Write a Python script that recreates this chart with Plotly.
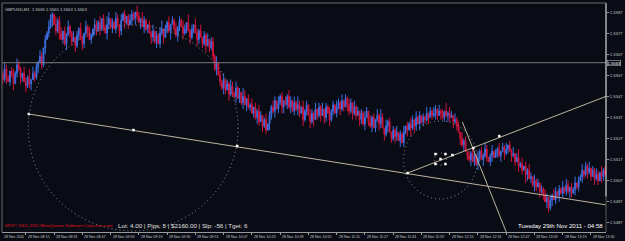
import plotly.graph_objects as go
import pandas as pd

# ---------------- data ----------------
symbol_title = "GBPUSD,M1  1.5565 1.5565 1.5563 1.5563"
start_time = "2011-11-28 08:01"
base_price = 1.5500

# closes in pips above 1.5500, one per M1 bar
close_pips = [
    58, 55, 60, 56, 54, 59, 57, 53, 58, 62, 60, 56, 58, 54, 52, 56, 53, 55, 58, 56, 61, 63,
    66, 62, 70, 74, 77, 80,
    84, 86, 81, 78, 83, 77,
    74, 78, 72, 76, 80, 77, 73, 75, 71, 76, 79, 74, 72, 77, 80, 78, 74, 76, 79, 81,
    78, 82, 79, 84, 80, 77, 81, 84, 80,
    82, 79, 84, 81, 78, 83, 86, 82, 85, 81, 83, 86, 84, 87, 85, 82, 84, 80, 83, 79, 81, 77,
    75, 78, 73, 76, 72, 77, 79, 75,
    79, 82, 78, 81, 83, 79, 76, 80, 83, 80, 77, 79, 82, 78, 75, 79, 81, 77, 74, 78,
    75, 72, 76, 71, 74, 70, 73,
    66, 60, 63, 57,
    54, 51, 55, 50, 53, 48, 52, 49, 47,
    51, 46, 49, 44, 47, 43, 46, 42,
    43, 39, 42, 37, 40, 35, 38, 33, 36, 31, 34,
    38, 42, 40, 45, 41, 44, 47, 42, 45,
    43, 47, 42, 45, 40, 44, 41, 43,
    39, 42, 36, 40, 43, 38, 35, 39, 36, 41, 38, 42,
    38, 41, 37, 42, 39, 36, 40, 43, 39, 42, 44,
    41, 45, 42, 46, 43, 40, 44, 39, 42, 38, 40,
    36, 39, 34, 37, 40, 35, 33, 37, 32, 36, 38,
    34, 37, 32, 29, 33, 35, 30, 27, 31, 28, 30, 26,
    29, 25, 30, 33, 31,
    34, 32, 36, 33, 37, 34, 38, 35, 37,
    36, 39, 37, 40, 38, 39, 41, 38, 40, 39, 37, 40, 38, 39, 37, 38, 35, 36, 33, 30,
    27, 24, 26, 21, 19, 17,
    20, 16, 19, 15, 18,
    21, 17, 19, 22, 18, 16, 19, 21, 18, 20, 22, 19,
    21, 23, 20, 22, 24, 21, 19, 20,
    16, 18, 14, 15, 12, 14, 10, 12, 8,
    9, 5, 7, 4, 6, 2, 3, 0,
    -3, -1, -6, -2,
    0, -2, 2, 0, 3, 1, 4, 2,
    5, 2, 4, 1, 3, 6, 4, 7,
    9, 12, 10, 14, 11, 13,
    9, 12, 8, 10, 7, 11, 9, 12, 10,
]

# upper / lower wick lengths in pips, one digit per bar
wick_up = [int(c) for c in (
    "2132102313210321403121320213210412302131"
    "1302132031210321302143021320312013210320"
    "3210213021340213021302132041203213021302"
    "2130213021320312043021302132013021320312"
    "0213203142031203213021302131203213021320"
    "3120213203120314203120213021302132031202"
    "1302132031204132031203120213203121320130"
    "2130213021302413021320312021320213202130"
    "3202130213021302132031203213021302132021"
)]
wick_dn = [int(c) for c in (
    "1213021302132031230213021302140213021302"
    "2031203213021320312032130213203120213203"
    "0312032130213021402132031203120320213021"
    "2130213203121302130312021320312032130213"
    "3021302132031203130213032031202131203213"
    "1203213021302132031302132030213041320312"
    "2130213203121320312031302130213203120230"
    "0213031203120312043021320312032130213021"
    "2132031203213120312032130213203121320313"
)]

# y-axis tick prices
y_ticks = [1.5487, 1.5497, 1.5507, 1.5517, 1.5527, 1.5537, 1.5547, 1.5557, 1.5567, 1.5577, 1.5587]
h_line_price = 1.5563
right_border_low = 1.54995

# x-axis time labels
x_tick_times = ["08:15", "08:31", "08:47", "09:03", "09:19", "09:35", "09:51", "10:07", "10:23",
                "10:39", "10:55", "11:11", "11:27", "11:43", "11:59", "12:15", "12:31", "12:47",
                "13:03", "13:19", "13:35"]
x_first_label = "28 Nov 2011"
x_range = ["2011-11-28 08:01:30", "2011-11-28 13:43:30"]
y_range = [1.548272, 1.559130]

# drawn objects (time, price)
trend1_t = ["2011-11-28 08:16:41", "2011-11-28 13:44:00"]
trend1_p = [1.553865, 1.549552]
trend2_t = ["2011-11-28 11:51:08", "2011-11-28 13:44:00"]
trend2_p = [1.551069, 1.554718]
steep_t = ["2011-11-28 12:22:11", "2011-11-28 12:47:00"]
steep_p = [1.553486, 1.548272]
big_circle = dict(t0="2011-11-28 08:16:20", t1="2011-11-28 10:15:12", p0=1.548320, p1=1.558084)
mid_circle = dict(t0="2011-11-28 11:48:52", t1="2011-11-28 12:30:38", p0=1.549836, p1=1.553533)
small_circle = dict(t0="2011-11-28 12:06:22", t1="2011-11-28 12:13:09", p0=1.551448, p1=1.552017)
anchor_t = ["2011-11-28 08:16:41", "2011-11-28 09:15:57", "2011-11-28 10:14:38",
            "2011-11-28 11:51:08", "2011-11-28 12:16:32", "2011-11-28 12:28:23",
            "2011-11-28 12:43:04", "2011-11-28 12:09:46", "2011-11-28 12:06:57",
            "2011-11-28 12:12:35", "2011-11-28 12:12:35", "2011-11-28 12:06:57"]
anchor_p = [1.553865, 1.553107, 1.552348, 1.551069, 1.551920, 1.552254,
            1.552822, 1.551732, 1.551969, 1.551969, 1.551495, 1.551495]

info_text = "Lot: 4.00 | Pips: 5 | $2160.00 | Slp: -56 | Tget: 6"
copyright_text = "MT4© 2001-2011 MetaQuotes Software Corp.ums.com"
date_text = "Tuesday 29th Nov 2011 - 04:58"

# ---------------- build ----------------
n = len(close_pips)
times = pd.date_range(start_time, periods=n, freq="min")
closes = [base_price + c / 10000 for c in close_pips]
opens = [closes[0] + 0.0001] + closes[:-1]
highs = [max(o, c) + wick_up[i] / 10000 for i, (o, c) in enumerate(zip(opens, closes))]
lows = [min(o, c) - wick_dn[i] / 10000 for i, (o, c) in enumerate(zip(opens, closes))]

BG = "#0a0c15"
BLUE = "#3d6fe0"
RED = "#d0143c"
LINEC = "#bdb49e"
DOTC = "#9a9a9a"
TXT = "#c8c8c8"

fig = go.Figure()
fig.add_trace(go.Candlestick(
    x=times, open=opens, high=highs, low=lows, close=closes,
    increasing=dict(line=dict(color=BLUE, width=1), fillcolor=BLUE),
    decreasing=dict(line=dict(color=RED, width=1), fillcolor=RED),
    whiskerwidth=0, showlegend=False, hoverinfo="skip",
))

# horizontal price line
fig.add_hline(y=h_line_price, line=dict(color="#7a7a7a", width=1))

# trend lines
for tt, pp in [(trend1_t, trend1_p), (trend2_t, trend2_p), (steep_t, steep_p)]:
    fig.add_trace(go.Scatter(x=tt, y=pp, mode="lines", line=dict(color=LINEC, width=1),
                             showlegend=False, hoverinfo="skip", cliponaxis=True))

# circles
for c in (big_circle, mid_circle, small_circle):
    fig.add_shape(type="circle", xref="x", yref="y", x0=c["t0"], x1=c["t1"], y0=c["p0"], y1=c["p1"],
                  line=dict(color=DOTC, width=1, dash="1px,3px"))

# anchor points
fig.add_trace(go.Scatter(x=anchor_t, y=anchor_p, mode="markers",
                         marker=dict(symbol="square", size=2.5, color="#ffffff"),
                         showlegend=False, hoverinfo="skip"))

fig.update_layout(
    width=625, height=241,
    margin=dict(l=2, r=17, t=3, b=9),
    paper_bgcolor=BG, plot_bgcolor=BG,
    showlegend=False,
    font=dict(family="Liberation Sans", color=TXT),
)
tick_vals = [f"2011-11-28 {t}" for t in x_tick_times]
fig.update_xaxes(
    type="date", range=x_range, rangeslider=dict(visible=False),
    showgrid=False, zeroline=False, showline=True, linecolor="#9a9a9a", linewidth=1,
    tickvals=tick_vals, showticklabels=False, ticks="outside", ticklen=2, tickcolor="#9a9a9a",
)
fig.update_yaxes(
    range=y_range, side="right", showgrid=False, zeroline=False, showline=False,
    tickvals=y_ticks, ticktext=[f"{v:.4f}" for v in y_ticks],
    ticks="outside", ticklen=2, tickcolor="#9a9a9a",
    tickfont=dict(size=4.2, color=TXT, family="Liberation Sans"),
)

# right white border (top part)
fig.add_shape(type="line", xref="paper", yref="y", x0=1, x1=1, y0=right_border_low, y1=y_range[1],
              line=dict(color="#ffffff", width=1))
fig.add_shape(type="line", xref="paper", yref="y", x0=1, x1=1, y0=y_range[0], y1=right_border_low,
              line=dict(color="#5a5a5a", width=1))

# x labels (left aligned at tick like MT4)
fig.add_annotation(x=x_range[0], y=0, xref="x", yref="paper", text=x_first_label, showarrow=False,
                   xanchor="left", yanchor="top", yshift=-1, font=dict(size=3.6, color=TXT))
for tv, t in zip(tick_vals, x_tick_times):
    fig.add_annotation(x=tv, y=0, xref="x", yref="paper", text=f"28 Nov {t}", showarrow=False,
                       xanchor="left", yanchor="top", yshift=-1, xshift=0, font=dict(size=3.6, color=TXT))

# current price label
fig.add_annotation(x=1, y=h_line_price, xref="paper", yref="y", text=f"{h_line_price:.4f}",
                   showarrow=False, xanchor="left", xshift=1, bgcolor=BG, bordercolor="#c8c8c8",
                   borderwidth=0.5, borderpad=0, font=dict(size=4.2, color="#ffffff"))

# texts
fig.add_annotation(x=0.002, y=1, xref="paper", yref="paper", text=symbol_title, showarrow=False,
                   xanchor="left", yanchor="top", yshift=-2, font=dict(size=4.2, color=TXT))
fig.add_annotation(x=0.002, y=0, xref="paper", yref="paper", text=copyright_text, showarrow=False,
                   xanchor="left", yanchor="bottom", yshift=2, font=dict(size=4.4, color="#e01020"))
fig.add_annotation(x=0.188, y=0, xref="paper", yref="paper", text=info_text, showarrow=False,
                   xanchor="left", yanchor="bottom", yshift=1, font=dict(size=6.2, color="#e0e0e0"))
fig.add_annotation(x=0.999, y=0, xref="paper", yref="paper", text=date_text, showarrow=False,
                   xanchor="right", yanchor="bottom", yshift=1, font=dict(size=6.1, color="#ffffff"))

# frame left/top
fig.add_shape(type="line", xref="paper", yref="paper", x0=0, x1=0, y0=0, y1=1,
              line=dict(color="#6a6a6a", width=1))
fig.add_shape(type="line", xref="paper", yref="paper", x0=0, x1=1, y0=1, y1=1,
              line=dict(color="#6a6a6a", width=1))

fig.write_html("out.html")
